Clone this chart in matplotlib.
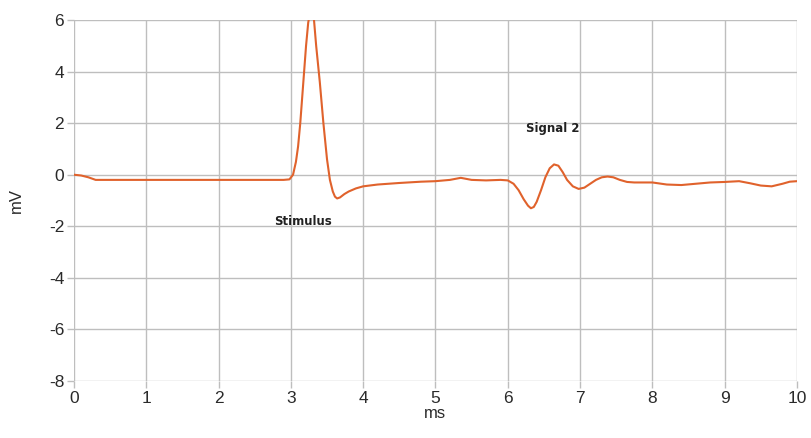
import matplotlib
matplotlib.use('Agg')
import matplotlib.pyplot as plt
from matplotlib import font_manager
import numpy as np

plt.rcParams['axes.unicode_minus'] = False

# recorded trace, time in ms and potential in mV
t_ms = [0.0, 0.1, 0.2, 0.3, 0.5, 1.0, 1.5, 2.0, 2.5, 2.9, 2.98, 3.03, 3.07, 3.1, 3.13, 3.17,
        3.21, 3.24, 3.27, 3.29, 3.32, 3.35, 3.40, 3.45, 3.50, 3.54, 3.58, 3.61, 3.64, 3.68,
        3.74, 3.8, 3.9, 4.0, 4.2, 4.5, 4.8, 5.0, 5.2, 5.35, 5.5, 5.7, 5.9, 6.0, 6.08, 6.15,
        6.22, 6.28, 6.32, 6.36, 6.40, 6.46, 6.52, 6.58, 6.64, 6.70, 6.76, 6.82, 6.90, 6.98,
        7.06, 7.14, 7.22, 7.30, 7.38, 7.46, 7.55, 7.65, 7.75, 7.85, 8.0, 8.2, 8.4, 8.6,
        8.8, 9.0, 9.2, 9.35, 9.5, 9.65, 9.8, 9.9, 10.0]
v_mv = [0.0, -0.03, -0.1, -0.2, -0.2, -0.2, -0.2, -0.2, -0.2, -0.2, -0.18, 0.0, 0.5, 1.1, 2.0, 3.5,
        5.0, 5.9, 6.35, 6.4, 6.0, 5.0, 3.6, 2.0, 0.6, -0.2, -0.65, -0.85, -0.92, -0.88,
        -0.75, -0.65, -0.53, -0.45, -0.38, -0.32, -0.27, -0.25, -0.2, -0.12, -0.2, -0.22, -0.2, -0.22, -0.35, -0.6,
        -0.95, -1.2, -1.3, -1.25, -1.05, -0.6, -0.1, 0.25, 0.4, 0.35, 0.1, -0.2, -0.45, -0.55,
        -0.5, -0.35, -0.2, -0.1, -0.07, -0.1, -0.2, -0.28, -0.3, -0.3, -0.3, -0.38, -0.4, -0.35,
        -0.3, -0.28, -0.25, -0.33, -0.42, -0.45, -0.35, -0.27, -0.25]

x_ticks = list(range(0, 11))
y_ticks = list(range(-8, 7, 2))

names = {f.name for f in font_manager.fontManager.ttflist}
tick_font = 'Liberation Sans Narrow' if 'Liberation Sans Narrow' in names else 'Liberation Sans'

fig = plt.figure(figsize=(8.11, 4.38), dpi=100)
ax = fig.add_axes([0.0912, 0.1301, 0.8915, 0.8242])

ax.plot(t_ms, v_mv, color='#E0622C', lw=1.5, solid_joinstyle='round', zorder=3)

ax.set_xlim(0, 10)
ax.set_ylim(-8, 6)
ax.set_xticks(x_ticks)
ax.set_yticks(y_ticks)
ax.grid(True, color='#BEBEBE', lw=1.0)
ax.set_axisbelow(True)
for s in ax.spines.values():
    s.set_visible(False)
ax.tick_params(length=5, width=1, color='#BEBEBE', labelcolor='#2a2a2a', labelsize=12.5, pad=2)
for lab in ax.get_xticklabels() + ax.get_yticklabels():
    lab.set_family(tick_font)

ax.set_xlabel('ms', fontsize=12, family='Liberation Sans', color='#2a2a2a', labelpad=0)
ax.set_ylabel('mV', fontsize=12, family='Liberation Sans', color='#2a2a2a', labelpad=18)

ax.text(3.17, -1.82, 'Stimulus', fontsize=8.5, fontweight='bold', ha='center', va='center',
        family='DejaVu Sans', color='#202020')
ax.text(6.62, 1.78, 'Signal 2', fontsize=8.5, fontweight='bold', ha='center', va='center',
        family='DejaVu Sans', color='#202020')

fig.savefig('out.png', dpi=100)
